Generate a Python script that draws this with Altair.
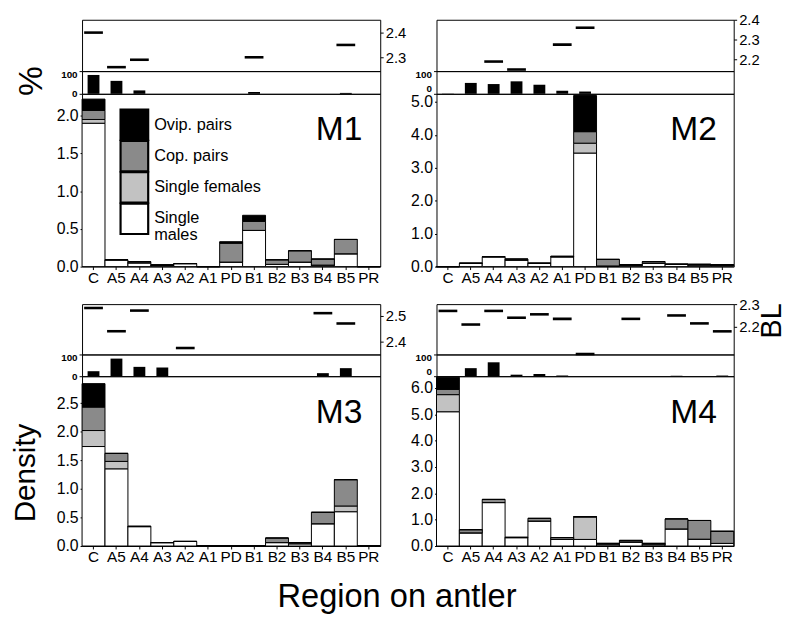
import altair as alt
import pandas as pd

FONT = "Liberation Sans"

regions = ["C", "A5", "A4", "A3", "A2", "A1", "PD", "B1", "B2", "B3", "B4", "B5", "PR"]
groups = ["Single males", "Single females", "Cop. pairs", "Ovip. pairs"]   # stack order, bottom first
legend_order = ["Ovip. pairs", "Cop. pairs", "Single females", "Single males"]
legend_labels = ["Ovip. pairs", "Cop. pairs", "Single females", "Single\nmales"]
fills = ["black", "#8a8a8a", "#c2c2c2", "white"]

# ---- M1 ----
m1_bl = [2.40, 2.26, 2.29, None, None, None, None, 2.30, None, None, None, 2.35, None]
m1_pct = [83, 57, 15, 0, 0, 0, 0, 8, 0, 0, 0, 4, 0]
m1_males = [1.90, 0.09, 0.05, 0.02, 0.04, 0, 0.06, 0.48, 0.03, 0.06, 0.02, 0.17, 0]
m1_females = [0.05, 0, 0, 0, 0, 0, 0, 0, 0, 0, 0, 0, 0]
m1_cop = [0.12, 0, 0.015, 0, 0, 0, 0.25, 0.12, 0.06, 0.15, 0.08, 0.19, 0]
m1_ovip = [0.15, 0, 0, 0, 0, 0, 0.02, 0.08, 0, 0, 0, 0, 0]

# ---- M2 ----
m2_bl = [None, None, 2.19, 2.15, None, 2.275, 2.36, None, None, None, None, None, None]
m2_pct = [1, 48, 43, 55, 40, 13, 10, 0, 0, 0, 0, 0, 0]
m2_males = [0, 0.1, 0.3, 0.2, 0.1, 0.3, 3.45, 0.02, 0.05, 0.1, 0.07, 0.05, 0.05]
m2_females = [0, 0, 0, 0, 0, 0, 0.30, 0, 0, 0, 0, 0, 0]
m2_cop = [0, 0, 0, 0.03, 0, 0, 0.35, 0.2, 0, 0.05, 0, 0.02, 0]
m2_ovip = [0, 0, 0, 0, 0, 0.02, 1.1, 0, 0, 0, 0, 0, 0]

# ---- M3 ----
m3_bl = [2.53, 2.44, 2.52, None, 2.375, None, None, None, None, None, 2.51, 2.47, None]
m3_pct = [23, 81, 43, 40, 0, 0, 0, 0, 0, 0, 14, 37, 0]
m3_males = [1.74, 1.35, 0.34, 0.06, 0.08, 0, 0, 0, 0.06, 0.04, 0.39, 0.60, 0]
m3_females = [0.28, 0.13, 0, 0, 0, 0, 0, 0, 0, 0, 0, 0.10, 0]
m3_cop = [0.41, 0.14, 0, 0, 0, 0, 0, 0, 0.08, 0.02, 0.20, 0.46, 0]
m3_ovip = [0.41, 0, 0.01, 0, 0, 0, 0, 0, 0, 0, 0, 0, 0]

# ---- M4 ----
m4_bl = [2.27, 2.21, 2.27, 2.24, 2.255, 2.235, 2.08, None, 2.235, None, 2.25, 2.215, 2.18]
m4_pct = [0, 37, 64, 7, 10, 3, 0, 0, 0, 0, 2, 0, 3]
m4_males = [5.1, 0.5, 1.65, 0.32, 0.95, 0.25, 0.25, 0.05, 0.15, 0.05, 0.65, 0.26, 0.1]
m4_females = [0.65, 0, 0, 0, 0, 0, 0.85, 0, 0, 0, 0, 0, 0]
m4_cop = [0.2, 0.12, 0.12, 0, 0.1, 0.07, 0.02, 0.05, 0.05, 0.05, 0.38, 0.71, 0.46]
m4_ovip = [0.46, 0, 0, 0.02, 0, 0, 0, 0, 0.02, 0, 0, 0, 0]

panel_names = ["M1", "M2", "M3", "M4"]
bl_domains = [[2.244, 2.452], [2.142, 2.40], [2.35, 2.545], [2.078, 2.30]]
bl_ticks = [[2.3, 2.4], [2.2, 2.3, 2.4], [2.4, 2.5], [2.2, 2.3]]
dens_max = [2.29, 5.25, 2.97, 6.45]
dens_ticks = [[0, 0.5, 1.0, 1.5, 2.0], [0, 1, 2, 3, 4, 5], [0, 0.5, 1.0, 1.5, 2.0, 2.5], [0, 1, 2, 3, 4, 5, 6]]

xscale = alt.Scale(type="band", domain=regions, paddingInner=0, paddingOuter=0)
color_scale = alt.Scale(domain=legend_order, range=fills)


def bl_chart(vals, dom, ticks, w, h, extras=()):
    df = pd.DataFrame({"region": regions, "bl": vals}).dropna()
    ch = alt.Chart(df).mark_tick(size=19, thickness=2.6, color="black", opacity=1).encode(
        x=alt.X("region:N", scale=xscale, axis=None),
        y=alt.Y("bl:Q", scale=alt.Scale(domain=dom, nice=False, zero=False),
                axis=alt.Axis(orient="right", values=ticks, format=".1f", title=None, grid=False,
                              domain=False, tickSize=3, labelFontSize=15, labelPadding=2,
                              labelColor="black", tickColor="black")),
    )
    return alt.layer(ch, *extras).properties(width=w, height=h)


def pct_chart(vals, w, h, zero_up=False, extras=()):
    df = pd.DataFrame({"region": regions, "pct": vals})
    base_kw = {"condition": {"test": "datum.value == 0", "value": "bottom"}, "value": "middle"} \
        if zero_up else "middle"
    ch = alt.Chart(df).mark_bar(width=12, color="black", opacity=1).encode(
        x=alt.X("region:N", scale=xscale, axis=None),
        y=alt.Y("pct:Q", scale=alt.Scale(domain=[0, 100], nice=False),
                axis=alt.Axis(values=[0, 100], title=None, grid=False, domain=False, tickSize=3,
                              labelFontSize=10, labelFontWeight="bold", labelPadding=2,
                              labelBaseline=base_kw,
                              labelOffset={"condition": {"test": "datum.value == 100", "value": 3},
                                           "value": 0},
                              labelColor="black", tickColor="black")),
    )
    return alt.layer(ch, *extras).properties(width=w, height=h)


def legend_layers():
    ldf = pd.DataFrame({"grp": legend_order, "lab": legend_labels})
    lscale = alt.Scale(domain=legend_order, range=[16, 142], paddingInner=0.03, paddingOuter=0)
    boxes = alt.Chart(ldf).mark_rect(stroke="black", strokeWidth=2.2, opacity=1).encode(
        y=alt.Y("grp:N", scale=lscale, axis=None),
        x=alt.value(39), x2=alt.value(67),
        color=alt.Color("grp:N", scale=color_scale, legend=None),
    )
    texts = alt.Chart(ldf).mark_text(
        align="left", baseline="middle", fontSize=16.5, font=FONT, color="black",
        lineBreak="\n", lineHeight=17
    ).encode(
        y=alt.Y("grp:N", scale=lscale, axis=None),
        x=alt.value(73),
        text="lab:N",
    )
    return [boxes, texts]


def dens_chart(males, females, cop, ovip, ymax, ticks, name, w, h, legend=False, extras=()):
    rows = []
    for k, (g, arr) in enumerate(zip(groups, [males, females, cop, ovip])):
        for r, v in zip(regions, arr):
            rows.append({"region": r, "grp": g, "k": k, "v": v})
    df = pd.DataFrame(rows)
    bars = alt.Chart(df).mark_bar(stroke="black", strokeWidth=1, opacity=1).encode(
        x=alt.X("region:N", scale=xscale,
                axis=alt.Axis(title=None, labelAngle=0, labelFontSize=15.5, tickSize=3, labelPadding=1,
                              domain=False, labelColor="black", tickColor="black")),
        y=alt.Y("v:Q", stack="zero", scale=alt.Scale(domain=[0, ymax], nice=False),
                axis=alt.Axis(values=ticks, format=".1f", title=None, grid=False, domain=False,
                              tickSize=2, labelFontSize=16, labelPadding=2,
                              labelColor="black", tickColor="black")),
        color=alt.Color("grp:N", scale=color_scale, legend=None),
        order=alt.Order("k:Q"),
    )
    label = alt.Chart(pd.DataFrame({"t": [name]})).mark_text(
        align="right", baseline="alphabetic", fontSize=34, font=FONT, color="black"
    ).encode(text="t:N", x=alt.value(284), y=alt.value(47))
    layers = [bars, label] + (legend_layers() if legend else []) + list(extras)
    ch = alt.layer(*layers).properties(width=w, height=h)
    if legend:
        ch = ch.resolve_scale(y="independent").resolve_axis(y="independent")
    return ch


def spacer(w, h):
    return alt.Chart(pd.DataFrame({"a": [0]})).mark_point(opacity=0).encode(
        x=alt.value(1), y=alt.value(1)
    ).properties(width=w, height=h, view=alt.ViewBackground(stroke="transparent"))


W1, W2 = 302, 301
H_BL1, H_P1, H_D1 = 52, 23, 175
H_SP = 38
H_BL2, H_P2, H_D2 = 51, 22, 172

anchor = alt.Chart(pd.DataFrame({"a": [0]})).mark_rule(strokeOpacity=0, strokeWidth=1).encode(
    x=alt.value(-74.5), x2=alt.value(-73), y=alt.value(-6.5))

pct_title = alt.Chart(pd.DataFrame({"t": ["%"]})).mark_text(
    angle=270, align="center", baseline="alphabetic", fontSize=34, font=FONT, color="black"
).encode(text="t:N", x=alt.value(-41), y=alt.value(10))

dens_title = alt.Chart(pd.DataFrame({"t": ["Density"]})).mark_text(
    angle=270, align="center", baseline="alphabetic", fontSize=30, font=FONT, color="black"
).encode(text="t:N", x=alt.value(-48), y=alt.value(98))

x_title = alt.Chart(pd.DataFrame({"t": ["Region on antler"]})).mark_text(
    align="center", baseline="alphabetic", fontSize=33, font=FONT, color="black"
).encode(text="t:N", x=alt.value(319), y=alt.value(234))

bl_title = alt.Chart(pd.DataFrame({"t": ["BL"]})).mark_text(
    angle=270, align="center", baseline="middle", fontSize=29, font=FONT, color="black"
).encode(text="t:N", x=alt.value(340), y=alt.value(17))

charts = [
    bl_chart(m1_bl, bl_domains[0], bl_ticks[0], W1, H_BL1, extras=[anchor]),
    bl_chart(m2_bl, bl_domains[1], bl_ticks[1], W2, H_BL1),
    pct_chart(m1_pct, W1, H_P1, extras=[pct_title]),
    pct_chart(m2_pct, W2, H_P1, zero_up=True),
    dens_chart(m1_males, m1_females, m1_cop, m1_ovip, dens_max[0], dens_ticks[0], "M1", W1, H_D1, legend=True),
    dens_chart(m2_males, m2_females, m2_cop, m2_ovip, dens_max[1], dens_ticks[1], "M2", W2, H_D1),
    spacer(W1, H_SP),
    spacer(W2, H_SP),
    bl_chart(m3_bl, bl_domains[2], bl_ticks[2], W1, H_BL2),
    bl_chart(m4_bl, bl_domains[3], bl_ticks[3], W2, H_BL2, extras=[bl_title]),
    pct_chart(m3_pct, W1, H_P2),
    pct_chart(m4_pct, W2, H_P2, zero_up=True),
    dens_chart(m3_males, m3_females, m3_cop, m3_ovip, dens_max[2], dens_ticks[2], "M3", W1, H_D2,
               extras=[dens_title, x_title]),
    dens_chart(m4_males, m4_females, m4_cop, m4_ovip, dens_max[3], dens_ticks[3], "M4", W2, H_D2),
]

chart = alt.concat(
    *charts, columns=2, spacing={"row": 0, "column": 57}, bounds="flush", align="each"
).resolve_scale(
    color="independent", y="independent", x="independent"
).properties(
    padding={"left": 0, "top": 0, "right": 0, "bottom": 0}
).configure(
    font=FONT, background="white"
).configure_view(
    stroke="black", strokeWidth=1
).configure_axis(
    labelFont=FONT, titleFont=FONT
)

chart.save("out.html", embed_options={"renderer": "svg", "actions": False})
